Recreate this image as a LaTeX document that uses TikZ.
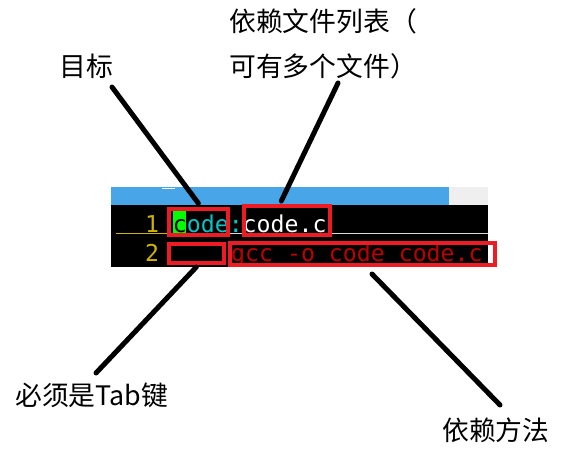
\documentclass[tikz,border=0pt]{standalone}
\usepackage{fontspec}
\newfontfamily\cjk{Noto Sans CJK SC}
\newfontfamily\vimfont{DejaVu Sans Mono}
\usetikzlibrary{calc}

\definecolor{barblue}{RGB}{72,166,232}
\definecolor{bargrey}{RGB}{239,239,239}
\definecolor{markred}{RGB}{237,28,36}
\definecolor{numyellow}{RGB}{204,180,0}
\definecolor{vimcyan}{RGB}{0,200,200}
\definecolor{vimgreen}{RGB}{0,255,0}
\definecolor{cmdred}{RGB}{192,0,0}

\tikzset{
	lbl/.style={inner sep=0pt, font=\cjk\fontsize{26.8}{45}\selectfont},
	vim/.style={inner sep=0pt, anchor=base west, font=\vimfont\fontsize{23.2}{23.2}\selectfont},
	redbox/.style={draw=markred, line width=4pt, inner sep=0pt},
	pointer/.style={line width=5pt, line cap=round}
}

\begin{document}
\begin{tikzpicture}[x=1pt, y=-1pt]
			%%%%% START %%%%%
			
			\useasboundingbox[fill=white] (0, 0) rectangle (572, 452);
			
			% editor window
			\fill[barblue] (111, 187) rectangle (449, 205);
			\fill[bargrey] (449, 187) rectangle (488, 205);
			\draw[white, line width=1pt] (162, 188) -- (175, 188);
			\fill[black] (111, 205) rectangle (488, 267);
			\fill[vimgreen] (172.7, 210.7) rectangle (186.3, 233.3);
			
			\node[vim, text=numyellow] (num1) at (144.8, 232) {1};
			\node[vim, text=numyellow] (num2) at (144.8, 261) {2};
			\node[vim] (rule1) at (172.7, 232) {\textcolor{black}{c}\textcolor{vimcyan}{ode:}\textcolor{white}{code.c}};
			\node[vim, text=cmdred] (rule2) at (231, 261) {gcc -o code code.c};
			
			\draw[numyellow, line width=1pt] (116, 233.5) -- (167, 233.5);
			\draw[white!85!black, line width=1pt] (227, 233.5) -- (488, 233.5);
			
			% marks
			\node[redbox, minimum width=59.3pt, minimum height=25.4pt] (tgtbox) at (198.35, 222) {};
			\node[redbox, minimum width=86pt, minimum height=28.7pt] (depbox) at (287.3, 220.35) {};
			\node[redbox, minimum width=55.3pt, minimum height=19.3pt] (tabbox) at (196.35, 253.35) {};
			\node[redbox, minimum width=264.4pt, minimum height=22.6pt] (cmdbox) at (362.5, 254) {};
			
			% labels
			\node[lbl, anchor=base west] (tgt) at (59, 76.5) {目标};
			\node[lbl, anchor=north west, align=left] (deps) at (229, 8) {依赖文件列表（\\可有多个文件）};
			\node[lbl, anchor=base west] (tab) at (15, 405.5) {必须是Tab键};
			\node[lbl, anchor=base west] (how) at (442, 440) {依赖方法};
			
			\coordinate (tgt-tip) at (112, 87);
			\coordinate (deps-tip) at (338, 83);
			\coordinate (tab-tip) at (96, 373);
			\coordinate (how-tip) at (500, 405);
			
			\draw[pointer] (tgt-tip) -- ([yshift=4pt]tgtbox.north);
			\draw[pointer] (deps-tip) -- ([xshift=-6pt, yshift=3pt]depbox.north);
			\draw[pointer] ([yshift=-2pt]tabbox.south) -- (tab-tip);
			\draw[pointer] ([xshift=9.5pt, yshift=-6.7pt]cmdbox.south) -- (how-tip);
			
			%%%%% END %%%%%
\end{tikzpicture}
\end{document}
